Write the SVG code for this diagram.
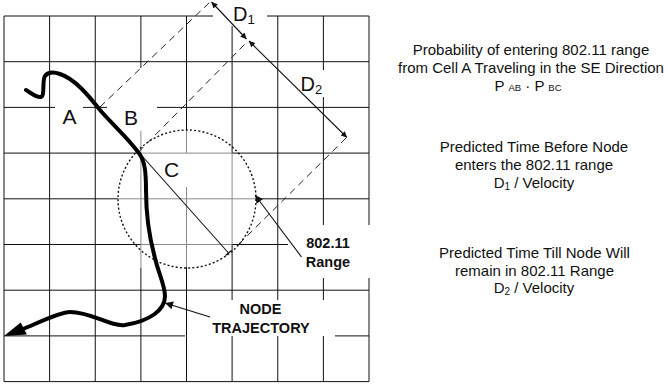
<svg xmlns="http://www.w3.org/2000/svg" width="668" height="388" viewBox="0 0 668 388">
<style>
.g{stroke:#111;stroke-width:1;fill:none}
.gl{stroke:#8a8a8a;stroke-width:1;fill:none}
.dash{stroke:#222;stroke-width:1;stroke-dasharray:7,5;fill:none}
.thin{stroke:#111;stroke-width:1.1;fill:none}
.t{font-family:"Liberation Sans",Arial,sans-serif;fill:#111}
.r{font-size:15px;text-anchor:middle}
.b{font-size:14.5px;font-weight:bold;text-anchor:middle}
.L{font-size:21px;text-anchor:middle}
</style>
<defs>
<marker id="ah" viewBox="0 0 10 10" refX="10" refY="5" markerWidth="11" markerHeight="6" markerUnits="userSpaceOnUse" orient="auto-start-reverse">
<path d="M0,0 L10,5 L0,10 z" fill="#111"/>
</marker>
<marker id="ah2" viewBox="0 0 10 10" refX="10" refY="5" markerWidth="13" markerHeight="8" markerUnits="userSpaceOnUse" orient="auto">
<path d="M0,0 L10,5 L0,10 z" fill="#111"/>
</marker>
</defs>
<rect width="668" height="388" fill="#fff"/>
<g id="grid">
<path class="g" d="M4,16V381.6 M49.6,16V381.6 M95.25,16V381.6 M140.9,16V68 M140.9,268V381.6 M186.5,16V130 M186.5,267V381.6 M232.1,26V153 M232.1,244.5V300 M232.1,336V381.6 M277.75,16V300 M277.75,336V381.6 M323.4,16V70 M323.4,97V225 M323.4,278V300 M323.4,336V381.6 M369,16V225 M369,278V381.6"/>
<path class="g" d="M4,16H213 M267,16H369 M4,61.7H369 M4,107.4H55 M83,107.4H107 M157,107.4H369 M4,153.1H140.9 M232.1,153.1H369 M4,198.8H118 M256,198.8H369 M4,244.5H140.9 M232.1,244.5H288 M4,290.2H369 M4,335.9H185 M335,335.9H369 M4,381.6H369"/>
<path class="gl" d="M140.9,131V268 M186.5,130V153 M186.5,187V267 M232.1,153V244.5 M140.9,153.1H186.5 M186.5,153.1H232.1 M118,198.8H256 M140.9,244.5H232.1"/>
</g>
<g id="range-circle">
<circle cx="187" cy="199" r="69" fill="none" stroke="#111" stroke-width="1.4" stroke-dasharray="2,2.2"/>
</g>
<g id="projection">
<path class="dash" d="M100,107 L210,2"/>
<path class="dash" d="M138.5,152 L247,42"/>
<path class="dash" d="M346,138 L238,245"/>
<path class="thin" d="M138.5,152 L228.5,253"/>
<path class="thin" d="M225.5,255.5 L231.5,250.5"/>
</g>
<g id="trajectory">
<path d="M26,90 C31,93 37,98 41,97 C45,96 42,80 45,76 C48,72 54,72 60,74 C75,79 88,95 100,110 C112,124 128,138 138,152 C145,160 146,172 146,190 C146,215 150,240 155,258 C158,272 165,285 165,296 C165,310 150,321 125,325 C110,327 92,312 70,312 C60,312 40,322 22,329.5" fill="none" stroke="#000" stroke-width="4" stroke-linecap="round"/>
<polygon points="4,336 20.7,322.4 26.9,334.6" fill="#000"/>
</g>
<g id="connectors">
<path class="thin" d="M211.5,2 L246.5,39" marker-start="url(#ah)" marker-end="url(#ah)"/>
<path class="thin" d="M249,41 L347,137.5" marker-start="url(#ah)" marker-end="url(#ah)"/>
<path class="thin" d="M210,317 L165,303" marker-end="url(#ah2)"/>
<path class="thin" d="M301.5,257 L255,195" marker-end="url(#ah2)"/>
</g>
<g id="label-A"><text class="t L" x="69.5" y="123.5">A</text></g>
<g id="label-B"><text class="t L" x="131" y="125">B</text></g>
<g id="label-C"><text class="t L" x="171.7" y="176.7">C</text></g>
<g id="label-D1"><text class="t" x="233" y="21" font-size="20">D<tspan font-size="13" dy="2.5">1</tspan></text></g>
<g id="label-D2"><text class="t" x="300.5" y="91" font-size="20">D<tspan font-size="13" dy="3">2</tspan></text></g>
<g id="label-range"><text class="t b" x="328" y="247.5">802.11</text><text class="t b" x="328" y="266.5">Range</text></g>
<g id="label-node"><text class="t b" x="260.5" y="314.3">NODE</text><text class="t b" x="261" y="333.3">TRAJECTORY</text></g>
<g id="text-probability">
<text class="t r" x="531" y="55">Probability of entering 802.11 range</text>
<text class="t r" x="531" y="73.3">from Cell A Traveling in the SE Direction</text>
<text class="t r" x="528" y="90.7">P <tspan font-size="9.5">AB</tspan> · P <tspan font-size="9.5">BC</tspan></text>
</g>
<g id="text-before">
<text class="t r" x="534" y="152.3">Predicted Time Before Node</text>
<text class="t r" x="534" y="170">enters the 802.11 range</text>
<text class="t r" x="534" y="188.3">D<tspan font-size="10" dy="2">1</tspan><tspan dy="-2"> / Velocity</tspan></text>
</g>
<g id="text-remain">
<text class="t r" x="534.5" y="258.3">Predicted Time Till Node Will</text>
<text class="t r" x="534.5" y="276">remain in 802.11 Range</text>
<text class="t r" x="534" y="293.3">D<tspan font-size="10" dy="2">2</tspan><tspan dy="-2"> / Velocity</tspan></text>
</g>
</svg>
